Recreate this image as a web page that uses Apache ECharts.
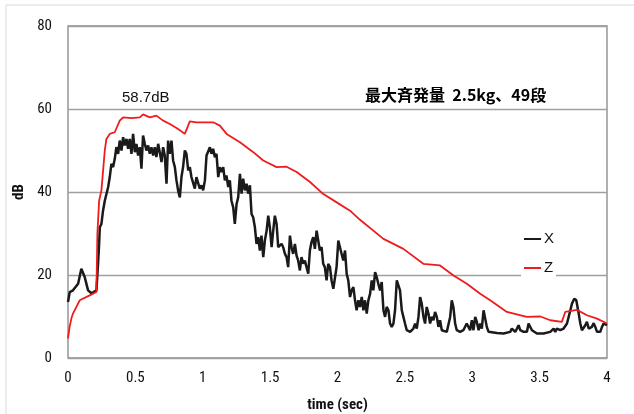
<!DOCTYPE html>
<html>
<head>
<meta charset="utf-8">
<script src="https://cdn.jsdelivr.net/npm/echarts@6/dist/echarts.min.js"></script>
<style>
html,body{margin:0;padding:0;background:#fff;}
#c{width:634px;height:414px;}
</style>
</head>
<body>
<div id="c"></div>
<script>
// ---- data ----
const xTicks = [0, 0.5, 1, 1.5, 2, 2.5, 3, 3.5, 4];
const yTicks = [0, 20, 40, 60, 80];

const xT = [0.000,0.013,0.037,0.075,0.099,0.107,0.124,0.149,0.174,0.211,0.223,0.231,0.236,0.248,0.260,0.273,0.285,0.298,0.310,0.322,
0.335,0.347,0.359,0.372,0.384,0.397,0.409,0.421,0.434,0.446,0.458,0.471,0.483,0.496,0.508,0.520,0.533,0.545,0.557,0.570,
0.582,0.595,0.607,0.619,0.632,0.644,0.656,0.669,0.681,0.694,0.706,0.718,0.731,0.743,0.755,0.768,0.780,0.793,0.805,0.817,
0.830,0.842,0.854,0.867,0.879,0.892,0.904,0.916,0.929,0.941,0.953,0.966,0.978,0.991,1.003,1.016,1.028,1.040,1.053,1.065,
1.077,1.090,1.102,1.115,1.127,1.139,1.152,1.164,1.176,1.189,1.201,1.213,1.226,1.238,1.251,1.263,1.276,1.288,1.300,1.313,
1.325,1.337,1.350,1.362,1.374,1.387,1.399,1.412,1.424,1.436,1.449,1.461,1.474,1.486,1.498,1.511,1.523,1.535,1.548,1.560,
1.573,1.585,1.597,1.610,1.622,1.634,1.647,1.659,1.671,1.684,1.696,1.708,1.721,1.733,1.746,1.758,1.770,1.783,1.795,1.807,
1.820,1.832,1.845,1.857,1.869,1.882,1.894,1.906,1.919,1.931,1.944,1.956,1.969,1.981,1.993,2.006,2.018,2.031,2.043,2.056,
2.068,2.080,2.093,2.105,2.118,2.130,2.142,2.155,2.167,2.180,2.192,2.204,2.217,2.229,2.242,2.254,2.266,2.279,2.291,2.303,
2.316,2.328,2.341,2.353,2.365,2.378,2.390,2.402,2.415,2.427,2.440,2.452,2.464,2.477,2.489,2.501,2.514,2.526,2.539,2.551,
2.563,2.576,2.588,2.601,2.613,2.625,2.638,2.650,2.662,2.675,2.687,2.700,2.712,2.724,2.737,2.749,2.761,2.774,2.786,2.811,
2.823,2.836,2.848,2.860,2.873,2.885,2.910,2.934,2.947,2.959,2.972,2.984,2.997,3.009,3.022,3.034,3.047,3.059,3.071,3.084,
3.096,3.108,3.121,3.133,3.183,3.232,3.282,3.294,3.307,3.319,3.332,3.344,3.356,3.381,3.406,3.418,3.430,3.443,3.455,3.480,
3.529,3.579,3.591,3.604,3.616,3.628,3.653,3.678,3.703,3.728,3.740,3.757,3.772,3.790,3.802,3.814,3.827,3.839,3.851,3.864,
3.876,3.888,3.901,3.913,3.926,3.938,3.950,3.963,3.975,3.988,4.000];
const xDB = [13.5,15.9,16.3,17.9,21.5,21.9,19.5,16.3,15.6,16.3,22.7,27.5,31.5,32.3,35.5,37.9,37.9,41.2,43.6,46.8,
46.0,48.0,50.8,49.2,52.4,50.0,53.2,51.2,52.8,50.4,52.8,49.2,54.0,49.6,51.6,48.8,50.8,45.6,53.6,51.6,
50.0,51.2,49.2,50.8,48.8,50.8,48.4,51.6,49.6,47.2,50.8,48.8,42.0,52.4,49.2,52.4,47.6,46.0,42.8,40.4,
38.7,43.6,46.0,50.0,49.2,45.2,46.0,43.6,43.6,40.8,43.6,43.6,40.8,41.6,40.4,42.8,48.8,49.2,50.8,49.2,
50.4,48.4,49.2,43.6,46.0,44.8,46.0,42.8,44.0,41.2,42.8,37.9,36.3,32.3,37.1,38.7,44.4,39.6,43.2,40.4,
42.0,39.6,41.6,34.7,33.9,31.5,27.5,29.1,25.9,29.5,24.3,28.3,30.7,34.3,31.5,26.7,30.7,34.3,32.3,26.7,
26.3,27.5,26.7,25.1,24.3,21.9,29.5,26.7,25.1,27.5,24.7,23.5,21.1,24.3,22.7,23.5,21.9,20.3,25.9,27.9,
29.1,26.3,30.7,28.3,25.9,26.7,22.7,21.9,18.7,22.7,21.9,18.7,16.7,17.1,21.9,28.3,26.7,26.7,23.5,25.9,
20.3,18.7,14.7,16.3,17.1,13.9,11.5,13.9,12.3,14.7,11.5,13.9,10.7,13.9,15.5,18.7,16.3,20.7,19.5,17.9,
16.3,18.3,11.5,9.9,12.3,11.5,8.3,7.5,8.3,11.5,18.7,18.3,16.3,11.5,9.9,8.3,6.7,6.3,6.3,6.7,
7.1,8.3,7.1,9.9,14.7,13.1,9.9,8.3,12.3,10.7,8.3,9.9,9.1,11.1,9.9,7.5,9.1,6.7,6.3,6.3,
6.7,9.9,13.9,12.3,8.3,6.7,6.3,6.7,6.3,8.3,7.5,6.7,9.1,6.7,9.9,8.7,6.7,8.3,7.1,11.5,
11.5,7.5,6.3,5.9,6.0,5.9,6.3,7.1,7.5,6.3,7.1,7.9,6.7,6.3,6.3,8.3,8.7,6.7,6.3,5.9,
5.9,6.3,6.7,7.1,6.3,7.1,6.7,7.1,8.3,11.5,13.1,14.3,13.9,10.7,8.3,6.7,6.3,7.9,8.7,7.1,
6.7,7.5,8.4,7.5,6.3,5.9,6.3,7.5,8.3,7.9,7.9];

const zT = [0.000,0.012,0.025,0.037,0.087,0.161,0.211,0.218,0.231,0.248,0.273,0.285,0.310,0.347,0.384,0.409,0.471,0.533,0.557,0.607,
0.656,0.706,0.756,0.817,0.867,0.904,0.954,1.028,1.077,1.127,1.177,1.276,1.375,1.449,1.548,1.622,1.697,1.796,1.895,1.994,
2.093,2.167,2.341,2.489,2.637,2.761,2.861,2.960,3.059,3.133,3.257,3.405,3.505,3.579,3.665,3.690,3.777,3.851,3.926,4.000];
const zDB = [4.7,7.5,9.5,10.7,13.9,15.1,15.9,29.9,37.9,40.4,50.0,52.8,54.0,54.4,57.2,58.0,57.8,58.0,58.7,58.0,
58.4,57.2,56.4,55.2,54.0,57.0,56.8,56.8,56.8,56.0,54.0,52.0,49.6,47.6,46.0,46.1,44.8,42.4,39.5,37.5,
35.5,33.3,28.7,26.3,22.7,22.3,19.9,17.9,15.5,13.9,11.1,9.9,10.0,9.1,8.7,11.1,11.6,10.3,9.5,8.3];

const seriesNames = ['X', 'Z'];
const peakLabel = '58.7dB';
const titleText = '最大斉発量  2.5kg、49段';
const xName = 'time (sec)';
const yName = 'dB';

// ---- chart ----
const chart = echarts.init(document.getElementById('c'), null, {renderer: 'canvas'});
const tickFont = "'Liberation Sans Narrow', 'Roboto Condensed', 'Liberation Sans', sans-serif";
const xData = xT.map((t, i) => [t, xDB[i]]);
const zData = zT.map((t, i) => [t, zDB[i]]);

chart.setOption({
  backgroundColor: '#fff',
  animation: false,
  grid: {left: 68, right: 27, top: 26, bottom: 56, show: true, borderColor: '#868686', borderWidth: 1.3,
         containLabel: false, outerBoundsMode: 'none'},
  xAxis: {
    type: 'value', min: xTicks[0], max: xTicks[xTicks.length-1], interval: 0.5,
    axisLine: {show: false}, axisTick: {show: false}, splitLine: {show: false},
    axisLabel: {color: '#111', fontSize: 15, fontFamily: tickFont, margin: 13},
    name: xName, nameLocation: 'middle', nameGap: 40,
    nameTextStyle: {fontWeight: 'bold', fontSize: 15, color: '#111', fontFamily: tickFont}
  },
  yAxis: {
    type: 'value', min: yTicks[0], max: yTicks[yTicks.length-1], interval: 20,
    axisLine: {show: false}, axisTick: {show: false},
    splitLine: {show: true, lineStyle: {color: '#a0a0a0', width: 1.3}},
    axisLabel: {color: '#111', fontSize: 15, fontFamily: tickFont, margin: 16},
    name: yName, nameLocation: 'middle', nameGap: 40, nameRotate: 90,
    nameTextStyle: {fontWeight: 'bold', fontSize: 15, color: '#111', fontFamily: tickFont}
  },
  legend: {
    data: seriesNames.map(n => ({name: n, icon: 'rect'})), orient: 'vertical', left: 521, top: 226,
    itemWidth: 17, itemHeight: 2, itemGap: 11, padding: [4, 2, 5, 3],
    backgroundColor: '#fff',
    textStyle: {fontSize: 15, color: '#111', fontFamily: "'Liberation Sans', sans-serif", padding: [0, 0, 0, -2], lineHeight: 18}
  },
  graphic: [
    {type: 'rect', z: -10, silent: true, shape: {x: 6, y: 5, width: 700, height: 500},
     style: {fill: 'none', stroke: '#d9d9d9', lineWidth: 1}},
    {type: 'text', left: 122, top: 90, z: 10,
     style: {text: peakLabel, font: "15px 'Liberation Sans', sans-serif", fill: '#111'}},
    {type: 'text', left: 365, top: 87, z: 10,
     style: {text: titleText, font: "bold 16px 'Noto Sans CJK JP', sans-serif", fill: '#000'}}
  ],
  series: [
    {name: seriesNames[0], type: 'line', data: xData, symbol: 'none', smooth: false,
     lineStyle: {color: '#1a1a1a', width: 2.5}, itemStyle: {color: '#1a1a1a'}, z: 3},
    {name: seriesNames[1], type: 'line', data: zData, symbol: 'none', smooth: false,
     lineStyle: {color: '#ee1c1c', width: 1.8}, itemStyle: {color: '#ee1c1c'}, z: 4}
  ]
});
</script>
</body>
</html>
